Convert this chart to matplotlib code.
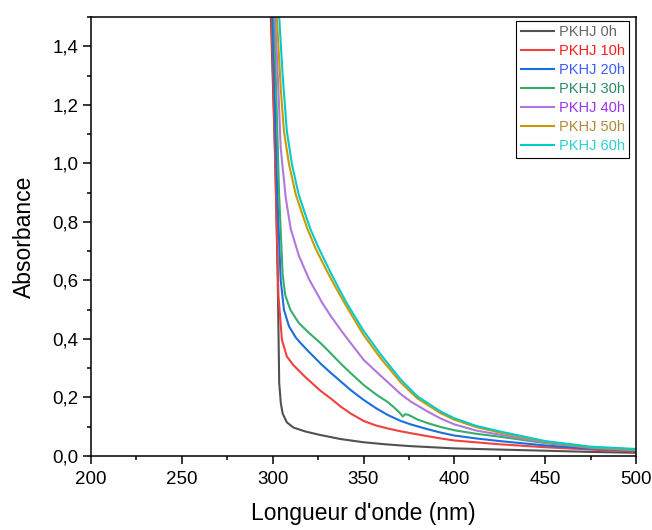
import numpy as np
import matplotlib
matplotlib.use("Agg")
import matplotlib.pyplot as plt
from matplotlib.ticker import MultipleLocator, FuncFormatter

plt.rcParams['font.family'] = ['Liberation Sans', 'DejaVu Sans']

# data (wavelength in nm, absorbance)
wl_0h = [297, 299.0, 301.5, 302.8, 303.6, 304.5, 305.5, 307.8, 311.5, 317.9, 325.3, 337.3, 350, 362, 375, 400, 425, 450, 475, 500]
abs_0h = [2.0, 1.5, 1.0, 0.6, 0.25, 0.18, 0.145, 0.115, 0.097, 0.084, 0.073, 0.058, 0.047, 0.040, 0.034, 0.026, 0.022, 0.018, 0.014, 0.011]

wl_10h = [297, 299.4, 302.3, 303.2, 305.1, 307.8, 311.5, 317.9, 326.5, 332.7, 337.6, 343, 350, 357, 363.4, 370, 376, 385, 392.5, 400, 425, 450, 475, 500]
abs_10h = [2.0, 1.5, 0.77, 0.546, 0.397, 0.34, 0.310, 0.270, 0.222, 0.193, 0.168, 0.145, 0.120, 0.104, 0.094, 0.085, 0.078, 0.068, 0.060, 0.053, 0.040, 0.030, 0.022, 0.015]

wl_20h = [297, 300.0, 302.5, 304.4, 306.2, 309.0, 312.7, 315.5, 320.1, 326.5, 331.8, 337.6, 343, 350, 357, 363.4, 370.4, 376, 385, 392.5, 400, 412, 425, 450, 475, 500]
abs_20h = [2.0, 1.5, 0.9, 0.603, 0.5, 0.443, 0.405, 0.385, 0.355, 0.315, 0.285, 0.254, 0.225, 0.192, 0.163, 0.140, 0.120, 0.108, 0.092, 0.080, 0.070, 0.060, 0.051, 0.036, 0.025, 0.018]

wl_30h = [297, 300.8, 303.5, 305.5, 306.9, 309.7, 314.3, 320.1, 326.5, 331.8, 337.6, 343, 350, 357, 363.4, 367, 370, 371.6, 373, 375, 379.6, 385, 392.5, 400, 412, 425, 450, 475, 500]
abs_30h = [2.0, 1.5, 0.9, 0.62, 0.55, 0.5, 0.455, 0.42, 0.385, 0.352, 0.315, 0.283, 0.243, 0.210, 0.184, 0.165, 0.147, 0.135, 0.143, 0.140, 0.125, 0.113, 0.099, 0.088, 0.076, 0.066, 0.044, 0.028, 0.019]

wl_40h = [297, 301.4, 303.5, 304.4, 307.2, 309.9, 314.5, 320.1, 327.4, 331.8, 337.3, 341.2, 350, 359.3, 363.4, 370.4, 376, 385, 392.5, 400, 412, 425, 450, 475, 500]
abs_40h = [2.0, 1.5, 1.2, 1.054, 0.882, 0.777, 0.683, 0.603, 0.522, 0.48, 0.432, 0.400, 0.329, 0.275, 0.252, 0.212, 0.186, 0.153, 0.128, 0.108, 0.087, 0.073, 0.046, 0.029, 0.020]

wl_50h = [297, 302.3, 304.5, 306.2, 309.0, 312.7, 316.4, 319.2, 323.7, 329.2, 333, 337.3, 341.2, 350, 359.3, 370.4, 379.6, 392.5, 400, 412, 425, 450, 475, 500]
abs_50h = [2.0, 1.5, 1.25, 1.11, 0.997, 0.894, 0.825, 0.775, 0.708, 0.64, 0.595, 0.547, 0.505, 0.414, 0.335, 0.252, 0.197, 0.146, 0.124, 0.099, 0.080, 0.049, 0.030, 0.022]

wl_60h = [297, 303.6, 305.5, 307.8, 310.6, 314.3, 318.0, 320.8, 325.0, 331.8, 337.3, 341.2, 350, 359.3, 370.4, 379.6, 392.5, 400, 412, 425, 450, 475, 500]
abs_60h = [2.0, 1.5, 1.3, 1.11, 0.997, 0.894, 0.825, 0.775, 0.715, 0.628, 0.562, 0.518, 0.428, 0.348, 0.262, 0.204, 0.152, 0.129, 0.103, 0.084, 0.051, 0.032, 0.024]

labels = ["PKHJ 0h", "PKHJ 10h", "PKHJ 20h", "PKHJ 30h", "PKHJ 40h", "PKHJ 50h", "PKHJ 60h"]

series = [(wl_0h, abs_0h), (wl_10h, abs_10h), (wl_20h, abs_20h), (wl_30h, abs_30h),
          (wl_40h, abs_40h), (wl_50h, abs_50h), (wl_60h, abs_60h)]
line_colors = ["#515151", "#F14040", "#1A6FDF", "#37AD6B", "#B177DE", "#CC9900", "#00CBCC"]
text_colors = ["#666666", "#FF1A1A", "#3D5CFF", "#2E8B62", "#9A35F5", "#B08A3A", "#2ECFCF"]

fig = plt.figure(figsize=(6.52, 5.30), dpi=100)
ax = fig.add_axes([91 / 652, 1 - 456 / 530, 545 / 652, 439 / 530])

for (x, y), c, lab in zip(series, line_colors, labels):
    ax.plot(x, y, color=c, lw=1.5, label=lab)

ax.set_xlim(200, 500)
ax.set_ylim(0, 1.5)
ax.xaxis.set_major_locator(MultipleLocator(50))
ax.xaxis.set_minor_locator(MultipleLocator(25))
ax.yaxis.set_major_locator(MultipleLocator(0.2))
ax.yaxis.set_minor_locator(MultipleLocator(0.1))
ax.yaxis.set_major_formatter(FuncFormatter(lambda v, p: f"{v:.1f}".replace('.', ',')))
ax.tick_params(which='both', direction='out', top=False, right=False, labelsize=13.5, width=1.1, pad=3)
ax.tick_params(axis='x', which='both', pad=5)
ax.tick_params(which='major', length=6)
ax.tick_params(which='minor', length=3)
for s in ax.spines.values():
    s.set_linewidth(1.1)

ax.set_xlabel("Longueur d'onde (nm)", fontsize=16.5, labelpad=10)
ax.set_ylabel("Absorbance", fontsize=16.5, labelpad=12)

leg = ax.legend(loc='upper right', bbox_to_anchor=((629 - 91) / 545, (456 - 21) / 439),
                borderaxespad=0, fontsize=10.5, frameon=True, fancybox=False,
                edgecolor='black', framealpha=1, handlelength=2.3, handletextpad=0.3,
                labelspacing=0.34, borderpad=0.3)
leg.get_frame().set_linewidth(0.8)
for t, c in zip(leg.get_texts(), text_colors):
    t.set_color(c)

fig.savefig("out.png", dpi=100)
